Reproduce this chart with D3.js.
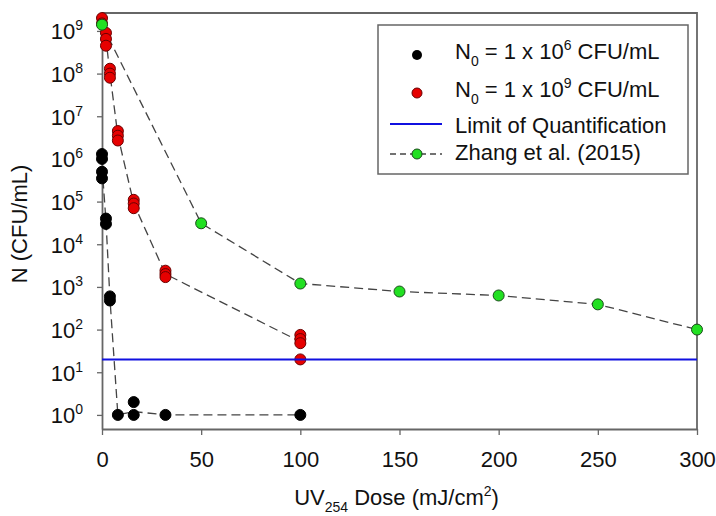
<!DOCTYPE html>
<html>
<head>
<meta charset="utf-8">
<script src="https://cdn.jsdelivr.net/npm/d3@7"></script>
<style>
  body { margin: 0; background: #fff; }
  text { font-family: "Liberation Sans", Arial, sans-serif; fill: #111; }
</style>
</head>
<body>
<div id="chart"></div>
<script>
// Data
var blackDose = [0, 0, 0, 0, 2, 2, 4, 4, 8, 16, 16, 32, 100];
var blackN = [1.3e6, 1.0e6, 5e5, 3.5e5, 4e4, 3e4, 6e2, 4.8e2, 1, 1, 2, 1, 1];
var blackLineDose = [0, 2, 4, 8, 16, 32, 100];
var blackLineN = [7e5, 3.5e4, 5.4e2, 1, 1.2, 1, 1];

var redDose = [0, 0, 2, 2, 2, 4, 4, 4, 8, 8, 8, 16, 16, 16, 32, 32, 32, 100, 100, 100, 100];
var redN = [2e9, 1.5e9, 9e8, 6.5e8, 4.5e8, 1.3e8, 1e8, 8e7, 4.5e6, 3.5e6, 2.7e6,
            1.1e5, 9e4, 7e4, 2.4e3, 2e3, 1.7e3, 75, 60, 48, 20];
var redLineDose = [0, 2, 4, 8, 16, 32, 100];
var redLineN = [1.6e9, 6.5e8, 1e8, 3.5e6, 9e4, 2e3, 52];

var zhangDose = [0, 50, 100, 150, 200, 250, 300];
var zhangN = [1.4e9, 3.1e4, 1.2e3, 780, 630, 390, 100];

var loq = 20;

var xTicks = [0, 50, 100, 150, 200, 250, 300];
var yExponents = [0, 1, 2, 3, 4, 5, 6, 7, 8, 9];

var legendLabels = [
  {base: "N", sub: "0", mid: " = 1 x 10", sup: "6", end: " CFU/mL"},
  {base: "N", sub: "0", mid: " = 1 x 10", sup: "9", end: " CFU/mL"},
  {base: "Limit of Quantification"},
  {base: "Zhang et al. (2015)"}
];

// SVG area
var svgWidth = 716;
var svgHeight = 516;
var chartMargin = { top: 13, right: 19, bottom: 87, left: 102 };
var chartWidth = svgWidth - chartMargin.left - chartMargin.right;
var chartHeight = svgHeight - chartMargin.top - chartMargin.bottom;

var svg = d3.select("#chart")
  .append("svg")
  .attr("width", svgWidth)
  .attr("height", svgHeight);

var chartGroup = svg.append("g")
  .attr("transform", `translate(${chartMargin.left}, ${chartMargin.top})`);

// Scales
var xScale = d3.scaleLinear().domain([0, 300]).range([0, chartWidth]);
var yScale = d3.scaleLog().domain([Math.pow(10, -0.33), Math.pow(10, 9.42)]).range([chartHeight, 0]);

// Frame (top and right)
chartGroup.append("path")
  .attr("d", `M0,0H${chartWidth}V${chartHeight}`)
  .attr("fill", "none")
  .attr("stroke", "#666")
  .attr("stroke-width", 1.8);

// Axes
var bottomAxis = d3.axisBottom(xScale).tickValues(xTicks).tickSize(6).tickSizeOuter(0);
var xAxis = chartGroup.append("g")
  .attr("transform", `translate(0, ${chartHeight})`)
  .call(bottomAxis);
xAxis.selectAll("text").attr("font-size", 22).attr("dy", 29).attr("fill", "#111");

var leftAxis = d3.axisLeft(yScale)
  .tickValues(yExponents.map(e => Math.pow(10, e)))
  .tickSize(5).tickSizeOuter(0)
  .tickFormat("");
var yAxis = chartGroup.append("g").call(leftAxis);

[xAxis, yAxis].forEach(function(ax) {
  ax.select(".domain").attr("stroke", "#666").attr("stroke-width", 1.8);
  ax.selectAll(".tick line").attr("stroke", "#666").attr("stroke-width", 1.3);
});

// y tick labels as 10^n
yAxis.selectAll(".tick").each(function(d) {
  var t = d3.select(this).append("text")
    .attr("x", -19)
    .attr("dy", "0.36em")
    .attr("text-anchor", "end")
    .attr("font-size", 22)
    .attr("fill", "#111");
  t.append("tspan").text("10");
  t.append("tspan").attr("font-size", 14).attr("dy", "-0.65em").text(Math.round(Math.log10(d)));
});

// Axis titles
var xTitle = chartGroup.append("text")
  .attr("x", chartWidth / 2 - 3)
  .attr("y", chartHeight + 76)
  .attr("text-anchor", "middle")
  .attr("font-size", 22);
xTitle.append("tspan").text("UV");
xTitle.append("tspan").attr("font-size", 14).attr("dy", 7).text("254");
xTitle.append("tspan").attr("dy", -7).text(" Dose (mJ/cm");
xTitle.append("tspan").attr("font-size", 14).attr("dy", -9).text("2");
xTitle.append("tspan").attr("dy", 9).text(")");

chartGroup.append("text")
  .attr("transform", "rotate(-90)")
  .attr("x", -211)
  .attr("y", -75)
  .attr("text-anchor", "middle")
  .attr("font-size", 22)
  .text("N (CFU/mL)");

// Dashed connecting lines
var line = d3.line().x(d => xScale(d[0])).y(d => yScale(d[1]));

function dashed(dose, vals) {
  chartGroup.append("path")
    .datum(d3.zip(dose, vals))
    .attr("d", line)
    .attr("fill", "none")
    .attr("stroke", "#444")
    .attr("stroke-width", 1.3)
    .attr("stroke-dasharray", "9,5");
}
dashed(blackLineDose, blackLineN);
dashed(redLineDose, redLineN);
dashed(zhangDose, zhangN);

// Points
function points(dose, vals, fill, stroke, r) {
  chartGroup.append("g").selectAll("circle")
    .data(d3.zip(dose, vals))
    .enter()
    .append("circle")
    .attr("cx", d => xScale(d[0]))
    .attr("cy", d => yScale(d[1]))
    .attr("r", r)
    .attr("fill", fill)
    .attr("stroke", stroke)
    .attr("stroke-width", 1);
}
points(blackDose, blackN, "#000", "#000", 5.5);
points(redDose, redN, "#e60000", "#6a0000", 5.5);
points(zhangDose, zhangN, "#22e022", "#1a4a1a", 5.5);

// Limit of quantification
chartGroup.append("line")
  .attr("x1", 0).attr("x2", chartWidth)
  .attr("y1", yScale(loq)).attr("y2", yScale(loq))
  .attr("stroke", "#1010e0")
  .attr("stroke-width", 2);

// Legend
var legend = svg.append("g");
legend.append("rect")
  .attr("x", 378).attr("y", 25)
  .attr("width", 310).attr("height", 149)
  .attr("fill", "#fff")
  .attr("stroke", "#666")
  .attr("stroke-width", 1.5);

var textY = [51, 89, 125, 152];
var markY = [55, 93, 124, 154];
legendLabels.forEach(function(lab, i) {
  var t = legend.append("text")
    .attr("x", 455).attr("y", textY[i])
    .attr("dy", "0.36em")
    .attr("font-size", 22);
  t.append("tspan").text(lab.base);
  if (lab.sub) {
    t.append("tspan").attr("font-size", 14).attr("dy", 7).text(lab.sub);
    t.append("tspan").attr("dy", -7).text(lab.mid);
    t.append("tspan").attr("font-size", 14).attr("dy", -9).text(lab.sup);
    t.append("tspan").attr("dy", 9).text(lab.end);
  }
});

legend.append("circle").attr("cx", 417).attr("cy", markY[0]).attr("r", 5).attr("fill", "#000");
legend.append("circle").attr("cx", 417).attr("cy", markY[1]).attr("r", 5).attr("fill", "#e60000").attr("stroke", "#6a0000");
legend.append("line")
  .attr("x1", 390).attr("x2", 442).attr("y1", markY[2]).attr("y2", markY[2])
  .attr("stroke", "#1010e0").attr("stroke-width", 2);
legend.append("line")
  .attr("x1", 390).attr("x2", 442).attr("y1", markY[3]).attr("y2", markY[3])
  .attr("stroke", "#444").attr("stroke-width", 1.3).attr("stroke-dasharray", "6,4");
legend.append("circle").attr("cx", 417).attr("cy", markY[3]).attr("r", 5).attr("fill", "#22e022").attr("stroke", "#1a4a1a");
</script>
</body>
</html>
